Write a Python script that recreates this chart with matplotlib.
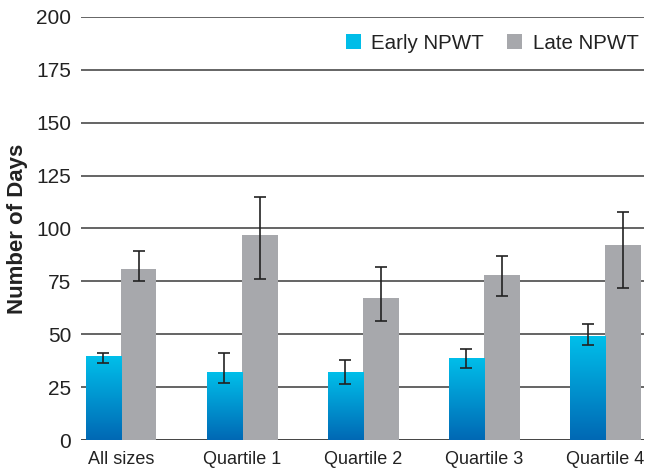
import numpy as np
import matplotlib
matplotlib.use("Agg")
import matplotlib.pyplot as plt
from matplotlib.colors import LinearSegmentedColormap
from matplotlib.patches import Patch

categories = ["All sizes", "Quartile 1", "Quartile 2", "Quartile 3", "Quartile 4"]
early = [39.5, 32, 32, 39, 49]
early_err_low = [3, 5, 5.3, 5, 4]
early_err_high = [1.5, 9, 5.6, 4.2, 6]
late = [81, 97, 67, 78, 92]
late_err_low = [6, 21, 10.5, 10, 20]
late_err_high = [8.5, 18, 14.6, 9, 16]
yticks = [0, 25, 50, 75, 100, 125, 150, 175, 200]

plt.rcParams['font.family'] = ['Liberation Sans', 'DejaVu Sans']

fig = plt.figure(figsize=(6.54, 4.74), dpi=100)
ax = fig.add_axes([0.1239, 0.0717, 0.8608, 0.8925])

x = np.arange(len(categories))
w = 0.293
grid_col = "#4a4a4a"
for t in yticks:
    ax.axhline(t, color=grid_col if t else "#222222", lw=1.2, zorder=0)

eb = ax.bar(x - w/2, early, w, color="none", edgecolor="none", zorder=2)
lb = ax.bar(x + w/2, late, w, color="#a7a8ac", edgecolor="none", zorder=2)

cmap = LinearSegmentedColormap.from_list("bl", ["#0068b4", "#00bfea"])
grad = np.linspace(0, 1, 256).reshape(-1, 1)
for p in eb.patches:
    x0, y0 = p.get_x(), p.get_y()
    im = ax.imshow(grad, extent=[x0, x0 + p.get_width(), y0, y0 + p.get_height()],
                   origin="lower", aspect="auto", cmap=cmap, zorder=2)
    im.set_clip_path(p)

ax.errorbar(x - w/2, early, yerr=[early_err_low, early_err_high], fmt="none",
            ecolor="#222222", elinewidth=1.2, capsize=4, capthick=1.2, zorder=3)
ax.errorbar(x + w/2, late, yerr=[late_err_low, late_err_high], fmt="none",
            ecolor="#222222", elinewidth=1.2, capsize=4, capthick=1.2, zorder=3)

ax.set_xlim(-0.33, 4.32)
ax.set_ylim(0, 200)
ax.set_yticks(yticks)
ax.set_yticklabels([str(t) for t in yticks], fontsize=15, color="#222222")
ax.set_xticks(x)
ax.set_xticklabels(categories, fontsize=13, color="#222222")
ax.tick_params(axis="both", length=0, pad=7)
ax.tick_params(axis="x", pad=8)
for s in ax.spines.values():
    s.set_visible(False)
ax.set_ylabel("Number of Days", fontsize=16, fontweight="bold", labelpad=6, color="#222222")

handles = [Patch(facecolor="#00bde8", label="Early NPWT"),
           Patch(facecolor="#a7a8ac", label="Late NPWT")]
ax.legend(handles=handles, loc="upper right", bbox_to_anchor=(1.012, 0.99), ncol=2,
          frameon=False, fontsize=14.8, handlelength=0.75, handleheight=0.75,
          handletextpad=0.5, columnspacing=1.1, borderaxespad=0.2, labelcolor="#222222")

fig.savefig("out.png", dpi=100)
